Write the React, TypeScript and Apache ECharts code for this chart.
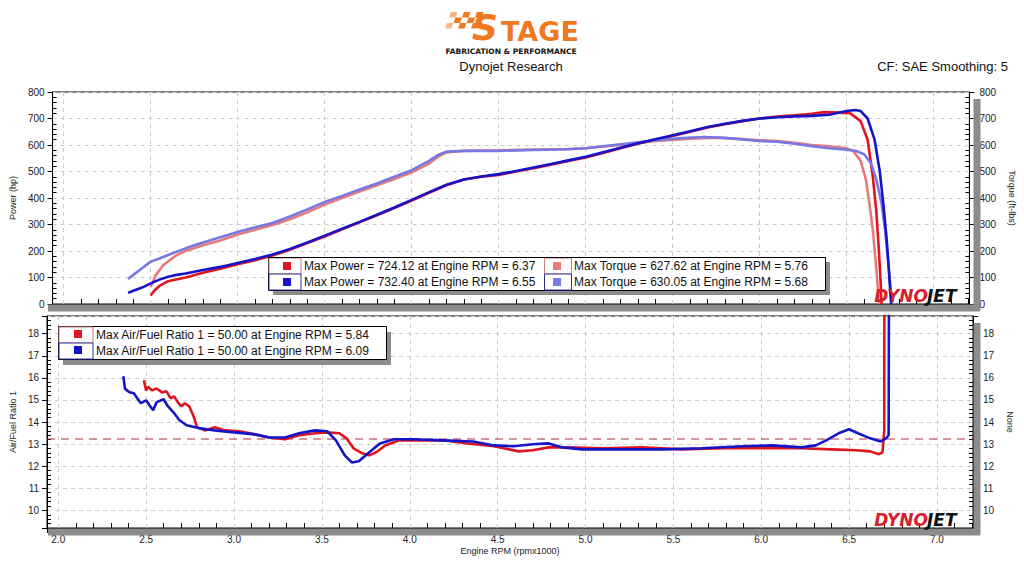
import React, { useEffect, useRef } from "react";
import * as echarts from "echarts";

// ---------- data ----------
const run1PowerRpm = [2.5, 2.52, 2.55, 2.6, 2.7, 2.8, 2.9, 3.0, 3.1, 3.2, 3.3, 3.4, 3.5, 3.6, 3.7, 3.8, 3.9, 4.0, 4.1, 4.2, 4.3, 4.4, 4.5, 4.6, 4.7, 4.8, 4.9, 5.0, 5.1, 5.2, 5.3, 5.4, 5.5, 5.6, 5.7, 5.8, 5.9, 6.0, 6.1, 6.2, 6.3, 6.37, 6.45, 6.52, 6.58, 6.62, 6.65, 6.67, 6.685, 6.695, 6.7];
const run1Power = [32, 50, 68, 86, 100, 118, 133, 150, 165, 183, 205, 230, 255, 282, 308, 335, 362, 390, 420, 448, 470, 480, 487, 500, 512, 526, 540, 553, 570, 588, 605, 620, 634, 650, 666, 678, 690, 700, 707, 712, 718, 724, 722, 720, 690, 620, 480, 350, 200, 80, 0];

const run2PowerRpm = [2.37, 2.4, 2.45, 2.5, 2.55, 2.6, 2.65, 2.7, 2.8, 2.9, 3.0, 3.1, 3.2, 3.3, 3.4, 3.5, 3.6, 3.7, 3.8, 3.9, 4.0, 4.1, 4.2, 4.3, 4.4, 4.5, 4.6, 4.7, 4.8, 4.9, 5.0, 5.1, 5.2, 5.3, 5.4, 5.5, 5.6, 5.7, 5.8, 5.9, 6.0, 6.1, 6.2, 6.3, 6.4, 6.45, 6.5, 6.55, 6.58, 6.62, 6.66, 6.69, 6.71, 6.73, 6.745, 6.755];
const run2Power = [42, 50, 62, 78, 92, 103, 110, 115, 128, 140, 155, 170, 187, 208, 232, 258, 284, 310, 337, 364, 393, 422, 450, 470, 481, 490, 502, 515, 528, 542, 556, 573, 590, 607, 622, 637, 652, 668, 680, 691, 700, 705, 708, 710, 714, 722, 728, 732, 728, 700, 620, 500, 380, 240, 100, 0];

const run1TorqueRpm = [2.5, 2.53, 2.57, 2.61, 2.65, 2.7, 2.8, 2.9, 3.0, 3.1, 3.2, 3.3, 3.4, 3.5, 3.6, 3.7, 3.8, 3.9, 4.0, 4.1, 4.15, 4.2, 4.3, 4.5, 4.7, 4.9, 5.0, 5.2, 5.4, 5.6, 5.76, 5.9, 6.0, 6.1, 6.2, 6.3, 6.4, 6.5, 6.54, 6.58, 6.61, 6.63, 6.65, 6.665, 6.68, 6.685];
const run1Torque = [64, 110, 145, 166, 185, 200, 222, 240, 262, 280, 298, 320, 346, 375, 400, 424, 448, 472, 497, 530, 555, 572, 578, 580, 583, 585, 588, 600, 615, 624, 627.62, 622, 618, 615, 608, 600, 595, 588, 575, 540, 470, 380, 280, 170, 50, 0];

const run2TorqueRpm = [2.37, 2.4, 2.45, 2.5, 2.55, 2.6, 2.7, 2.8, 2.9, 3.0, 3.1, 3.2, 3.3, 3.4, 3.5, 3.6, 3.7, 3.8, 3.9, 4.0, 4.1, 4.15, 4.2, 4.3, 4.5, 4.7, 4.9, 5.0, 5.2, 5.4, 5.55, 5.68, 5.8, 6.0, 6.1, 6.2, 6.3, 6.4, 6.5, 6.55, 6.6, 6.64, 6.67, 6.7, 6.72, 6.74, 6.755, 6.76];
const run2Torque = [94, 110, 135, 160, 172, 185, 210, 232, 252, 272, 290, 306, 330, 357, 385, 408, 432, 455, 480, 505, 540, 562, 575, 578, 578, 581, 584, 588, 603, 618, 626, 630.05, 627, 615, 612, 605, 595, 588, 582, 578, 565, 530, 470, 380, 280, 150, 30, 0];

const run1AfrRpm = [2.487, 2.5, 2.51, 2.535, 2.56, 2.59, 2.615, 2.64, 2.66, 2.68, 2.7, 2.72, 2.745, 2.77, 2.79, 2.835, 2.89, 2.95, 3.03, 3.12, 3.2, 3.29, 3.37, 3.46, 3.53, 3.6, 3.64, 3.68, 3.73, 3.77, 3.81, 3.86, 3.94, 4.02, 4.19, 4.33, 4.48, 4.62, 4.7, 4.79, 4.9, 5.1, 5.32, 5.55, 5.78, 6.0, 6.23, 6.4, 6.54, 6.62, 6.67, 6.69, 6.7, 6.705];
const run1Afr = [15.89, 15.43, 15.6, 15.43, 15.52, 15.34, 15.39, 15.07, 15.16, 14.89, 14.71, 14.85, 14.71, 14.26, 13.76, 13.62, 13.76, 13.62, 13.58, 13.44, 13.3, 13.22, 13.4, 13.49, 13.53, 13.49, 13.26, 12.81, 12.58, 12.49, 12.63, 12.94, 13.17, 13.17, 13.17, 13.03, 12.9, 12.67, 12.72, 12.85, 12.85, 12.81, 12.85, 12.76, 12.81, 12.81, 12.81, 12.76, 12.72, 12.67, 12.54, 12.63, 13.62, 50];

const run2AfrRpm = [2.37, 2.38, 2.405, 2.43, 2.45, 2.47, 2.5, 2.52, 2.54, 2.56, 2.6, 2.62, 2.655, 2.69, 2.73, 2.81, 2.89, 3.0, 3.12, 3.2, 3.29, 3.37, 3.46, 3.53, 3.58, 3.63, 3.67, 3.71, 3.77, 3.83, 3.91, 4.02, 4.19, 4.36, 4.48, 4.59, 4.7, 4.79, 4.87, 4.98, 5.21, 5.44, 5.66, 5.89, 6.06, 6.23, 6.31, 6.37, 6.44, 6.5, 6.55, 6.62, 6.68, 6.71, 6.725, 6.735];
const run2Afr = [16.07, 15.5, 15.35, 15.3, 15.07, 14.85, 14.98, 14.75, 14.53, 14.9, 15.03, 14.75, 14.44, 14.08, 13.85, 13.71, 13.62, 13.53, 13.44, 13.3, 13.3, 13.49, 13.62, 13.58, 13.17, 12.49, 12.17, 12.22, 12.63, 13.03, 13.22, 13.22, 13.17, 13.12, 12.94, 12.9, 12.99, 13.03, 12.85, 12.76, 12.76, 12.76, 12.81, 12.9, 12.94, 12.85, 12.94, 13.17, 13.49, 13.67, 13.49, 13.26, 13.12, 13.26, 13.4, 50];

const afrTarget = 13.23;
const rpmMin = 1.936;
const rpmMax = 7.205;

const legendTop = [
  "Max Power = 724.12 at Engine RPM = 6.37",
  "Max Power = 732.40 at Engine RPM = 6.55",
  "Max Torque = 627.62 at Engine RPM = 5.76",
  "Max Torque = 630.05 at Engine RPM = 5.68",
];
const legendBottom = [
  "Max Air/Fuel Ratio 1 = 50.00 at Engine RPM = 5.84",
  "Max Air/Fuel Ratio 1 = 50.00 at Engine RPM = 6.09",
];

// ---------- styles ----------
const FF = '"Liberation Sans", Arial, sans-serif';
const RED = "#e0141e";
const BLUE = "#1414c8";
const PINK = "#e87a7a";
const LBLUE = "#7878e4";
const ORANGE = "#f0781e";
const SHADOW = "#8c8c8c";

const pairs = (xs: number[], ys: number[]) => xs.map((x, i) => [x, ys[i]]);

const txt = (text: string, x: number, y: number, o: any = {}) => ({
  type: "text",
  z: 100,
  style: {
    text,
    x,
    y,
    fill: o.fill || "#111",
    fontSize: o.fontSize || 12,
    fontFamily: o.fontFamily || FF,
    fontWeight: o.fontWeight || "normal",
    fontStyle: o.fontStyle || "normal",
    lineHeight: o.lineHeight || undefined,
    textAlign: o.align || "left",
    textVerticalAlign: o.valign || "middle",
    align: o.align || "left",
    verticalAlign: o.valign || "middle",
  },
});
const rect = (x: number, y: number, w: number, h: number, fill: string, stroke?: string, z = 99) => ({
  type: "rect",
  z,
  shape: { x, y, width: w, height: h },
  style: { fill, stroke: stroke || null, lineWidth: 1 },
});
const line = (x1: number, y1: number, x2: number, y2: number, stroke: string, z = 101) => ({
  type: "line",
  z,
  shape: { x1, y1, x2, y2 },
  style: { stroke, lineWidth: 1 },
});

function buildGraphics() {
  const g: any[] = [];
  // plot drop shadows
  g.push(rect(973.5, 99, 7, 212, SHADOW, undefined, 1));
  g.push(rect(48, 304.5, 932, 7, SHADOW, undefined, 1));
  g.push(rect(973.5, 323, 7, 212, SHADOW, undefined, 1));
  g.push(rect(48, 528.5, 932, 7, SHADOW, undefined, 1));

  // logo: checkered flag
  for (let r = 0; r < 3; r++) {
    for (let c = 0; c < 5; c++) {
      if ((r + c) % 2 !== 0) continue;
      const x0 = 449 + c * 6.5 - r * 2;
      const y0 = 12 + r * 5.5;
      g.push({
        type: "polygon",
        z: 100,
        shape: { points: [[x0 + 2, y0], [x0 + 8.5, y0], [x0 + 6.5, y0 + 5.5], [x0, y0 + 5.5]] },
        style: { fill: ORANGE, opacity: c === 0 ? 0.55 : 1 },
      });
    }
  }
  g.push(txt("S", 472, 27, { fill: ORANGE, fontSize: 36, lineHeight: 30, fontWeight: "bold", fontStyle: "italic", fontFamily: '"DejaVu Sans", sans-serif' }));
  g.push(txt("TAGE", 501, 31, { fill: ORANGE, fontSize: 27, lineHeight: 22, fontWeight: "bold", fontFamily: '"DejaVu Sans", sans-serif' }));
  g.push(txt("FABRICATION & PERFORMANCE", 511, 51, { fill: "#111", fontSize: 7.5, lineHeight: 8, fontWeight: "bold", fontFamily: '"DejaVu Sans", sans-serif', align: "center" }));

  // titles
  g.push(txt("Dynojet Research", 511, 66, { fontSize: 13, align: "center" }));
  g.push(txt("CF: SAE Smoothing: 5", 1008, 66, { fontSize: 13, align: "right" }));

  // DYNOJET marks
  for (const yy of [296, 520]) {
    g.push(txt("DYNO", 928, yy, { fill: "#d8202c", fontSize: 17, fontWeight: "bold", fontStyle: "italic", fontFamily: '"DejaVu Sans", sans-serif', align: "right" }));
    g.push(txt("JET", 927, yy, { fill: "#111", fontSize: 17, fontWeight: "bold", fontStyle: "italic", fontFamily: '"DejaVu Sans", sans-serif' }));
  }

  // top legend
  g.push(rect(273, 262, 557, 33, SHADOW, undefined, 98));
  g.push(rect(268.5, 257.5, 557, 33, "#fff", "#000", 99));
  g.push(txt(legendTop[0], 304, 266));
  g.push(txt(legendTop[1], 304, 282));
  g.push(rect(544.5, 258, 27, 32, "#fff", undefined, 101));
  g.push(txt(legendTop[2], 574, 266));
  g.push(txt(legendTop[3], 574, 282));
  g.push(rect(269, 258, 32, 16, "#fff", "#c08080", 101));
  g.push(rect(269, 274, 32, 16, "#fff", "#303090", 101));
  g.push(rect(544.5, 258, 27, 16, "#fff", "#c08080", 101));
  g.push(rect(544.5, 274, 27, 16, "#fff", "#303090", 101));
  g.push(rect(283, 262, 8, 8, RED, undefined, 102));
  g.push(rect(283, 278, 8, 8, BLUE, undefined, 102));
  g.push(rect(553, 262, 8, 8, PINK, undefined, 102));
  g.push(rect(553, 278, 8, 8, LBLUE, undefined, 102));
  g.push(line(268.5, 257.5, 825.5, 257.5, "#000", 103));

  // bottom legend
  g.push(rect(63, 332, 328, 33, SHADOW, undefined, 98));
  g.push(rect(58.5, 326.5, 328, 33, "#fff", "#000", 99));
  g.push(rect(59, 327, 34, 16, "#fff", "#c08080", 101));
  g.push(rect(59, 343, 34, 16, "#fff", "#303090", 101));
  g.push(rect(74, 330, 8, 8, RED, undefined, 102));
  g.push(rect(74, 346, 8, 8, BLUE, undefined, 102));
  g.push(txt(legendBottom[0], 96, 335));
  g.push(txt(legendBottom[1], 96, 351));
  return g;
}

const axisText = { fontSize: 10, fontFamily: FF, color: "#222" };
const nameText = { fontSize: 9, fontFamily: FF, color: "#222" };
const blk = { lineStyle: { color: "#000", width: 1 } };

function xAxis(gridIndex: number, labels: boolean) {
  return {
    type: "value",
    gridIndex,
    min: rpmMin,
    max: rpmMax,
    splitNumber: 10,
    axisLine: { show: true, onZero: false, ...blk },
    axisTick: { show: true, length: 5, ...blk },
    minorTick: { show: true, splitNumber: 5, length: -5, ...blk },
    splitLine: { show: true, lineStyle: { color: "#cccccc", type: [4, 4] } },
    axisLabel: {
      show: labels,
      showMinLabel: false,
      showMaxLabel: false,
      margin: 6,
      formatter: (v: number) => v.toFixed(1),
      ...axisText,
    },
    name: labels ? "Engine RPM (rpmx1000)" : "",
    nameLocation: "middle",
    nameGap: 18,
    nameTextStyle: nameText,
  };
}

function yAxis(gridIndex: number, side: "left" | "right", min: number, max: number, name: string, split: boolean, extra: any = {}) {
  return {
    type: "value",
    gridIndex,
    position: side,
    min,
    max,
    ...extra,
    axisLine: { show: true, onZero: false, ...blk },
    axisTick: { show: true, length: 5, ...blk },
    minorTick: { show: true, splitNumber: 5, length: -4, ...blk },
    splitLine: { show: split, lineStyle: { color: "#cccccc", type: [4, 4] } },
    axisLabel: { showMinLabel: extra.interval ? true : false, showMaxLabel: extra.interval ? true : false, margin: side === "left" ? 8 : 10, ...axisText },
    name,
    nameLocation: "middle",
    nameRotate: side === "left" ? 90 : -90,
    nameGap: side === "left" ? 27 : 30,
    nameTextStyle: nameText,
  };
}

const lineSeries = (name: string, xi: number, yi: number, data: number[][], color: string, extra: any = {}) => ({
  name,
  type: "line",
  xAxisIndex: xi,
  yAxisIndex: yi,
  data,
  showSymbol: false,
  symbol: "none",
  clip: true,
  lineStyle: { color, width: 2.6 },
  itemStyle: { color },
  ...extra,
});

export default function App() {
  const ref = useRef<HTMLDivElement>(null);
  useEffect(() => {
    if (!ref.current) return;
    const chart = echarts.init(ref.current, undefined, { renderer: "svg" });
    chart.setOption({
      animation: false,
      backgroundColor: "#fff",
      grid: [
        { left: 41, top: 92, width: 932, height: 212, show: true, borderColor: "#000", borderWidth: 1, backgroundColor: "transparent" },
        { left: 41, top: 316, width: 932, height: 212, show: true, borderColor: "#000", borderWidth: 1, backgroundColor: "transparent" },
      ],
      xAxis: [xAxis(0, false), xAxis(1, true)],
      yAxis: [
        yAxis(0, "left", 0, 800, "Power (hp)", true, { interval: 100 }),
        yAxis(0, "right", 0, 800, "Torque (ft-lbs)", false, { interval: 100 }),
        yAxis(1, "left", 9.2, 18.8, "Air/Fuel Ratio 1", true, { splitNumber: 10 }),
        yAxis(1, "right", 9.2, 18.8, "None", false, { splitNumber: 10 }),
      ],
      graphic: { elements: buildGraphics() },
      series: [
        lineSeries("Torque run 1", 0, 1, pairs(run1TorqueRpm, run1Torque), PINK),
        lineSeries("Power run 1", 0, 0, pairs(run1PowerRpm, run1Power), RED),
        lineSeries("Torque run 2", 0, 1, pairs(run2TorqueRpm, run2Torque), LBLUE),
        lineSeries("Power run 2", 0, 0, pairs(run2PowerRpm, run2Power), BLUE),
        lineSeries("AFR target", 1, 2, [[rpmMin, afrTarget], [rpmMax, afrTarget]], "#b8283a", {
          lineStyle: { color: "#b8283a", width: 1, type: [8, 6] },
          z: 1,
        }),
        lineSeries("AFR run 1", 1, 2, pairs(run1AfrRpm, run1Afr), RED),
        lineSeries("AFR run 2", 1, 2, pairs(run2AfrRpm, run2Afr), BLUE),
      ],
    });
    return () => chart.dispose();
  }, []);
  return <div ref={ref} style={{ position: "fixed", left: 0, top: 0, width: 1024, height: 576 }} />;
}
